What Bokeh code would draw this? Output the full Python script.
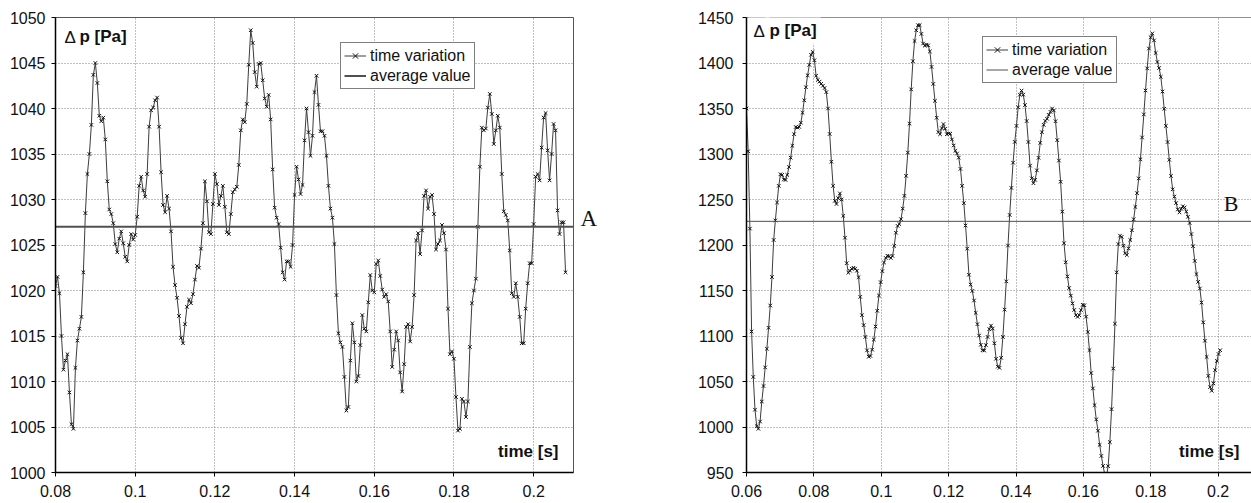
import numpy as np
from bokeh.plotting import figure
from bokeh.layouts import row
from bokeh.models import Label, Legend, LegendItem, FixedTicker, Range1d, LinearAxis, Span
from bokeh.embed import file_html
from bokeh.resources import INLINE

# ---------------- data: chart A (left) ----------------
T0_A = 0.08          # first sample time [s]
DT_A = 0.0005
dp_A = [
    1020.5, 1021.5, 1019.7, 1015.0, 1011.3, 1012.3, 1013.0, 1008.8, 1005.3, 1004.8,
    1011.5, 1014.5, 1015.8, 1017.1, 1022.0, 1028.5, 1032.8, 1035.0, 1038.2, 1043.7,
    1045.0, 1042.8, 1039.2, 1038.6, 1039.0, 1036.6, 1032.0, 1028.9, 1028.4, 1027.4,
    1025.1, 1024.2, 1025.7, 1026.5, 1025.2, 1023.7, 1023.2, 1025.0, 1026.2, 1025.6,
    1026.1, 1028.1, 1031.5, 1032.5, 1031.0, 1030.3, 1032.8, 1038.0, 1039.8, 1040.1,
    1040.9, 1041.2, 1038.0, 1033.0, 1029.4, 1028.6, 1030.4, 1029.0, 1026.5, 1022.6,
    1020.6, 1019.2, 1017.2, 1014.8, 1014.2, 1016.3, 1018.2, 1019.0, 1018.6, 1019.6,
    1021.2, 1022.7, 1022.5, 1024.6, 1027.4, 1032.0, 1029.8, 1026.4, 1026.2, 1029.5,
    1032.8, 1031.7, 1029.4, 1030.4, 1031.5, 1029.2, 1026.4, 1026.2, 1028.4, 1030.8,
    1031.1, 1031.4, 1033.8, 1037.6, 1038.8, 1038.5, 1040.5, 1044.8, 1048.6, 1047.2,
    1044.0, 1042.4, 1044.9, 1045.0, 1043.1, 1041.1, 1040.2, 1041.5, 1038.8, 1033.3,
    1029.1, 1028.0, 1027.3, 1024.7, 1022.0, 1021.2, 1023.2, 1023.2, 1022.6, 1025.0,
    1030.5, 1033.6, 1032.2, 1030.6, 1031.6, 1036.5, 1040.0, 1037.4, 1034.8, 1037.0,
    1041.8, 1043.6, 1040.4, 1037.5, 1037.5, 1037.0, 1034.8, 1031.5, 1029.0, 1028.0,
    1025.1, 1019.5, 1015.3, 1014.3, 1013.8, 1010.5, 1006.8, 1007.2, 1012.3, 1016.4,
    1014.3, 1010.0, 1010.6, 1014.0, 1017.3, 1015.8, 1015.5, 1018.7, 1021.7, 1020.0,
    1019.8, 1022.9, 1023.3, 1021.6, 1020.1, 1019.3, 1019.6, 1018.8, 1015.5, 1011.6,
    1013.5, 1015.5, 1014.5, 1011.0, 1008.9, 1011.9, 1016.0, 1016.3, 1014.4, 1016.0,
    1019.5, 1025.5, 1026.3, 1024.0, 1026.6, 1030.4, 1031.0, 1029.0, 1030.3, 1030.5,
    1028.4, 1024.5, 1025.1, 1025.5, 1027.2, 1026.3, 1024.5, 1018.0, 1013.0, 1013.3,
    1012.5, 1008.3, 1004.6, 1004.8, 1008.1, 1007.8, 1006.1, 1007.8, 1013.8, 1018.6,
    1020.0, 1021.3, 1027.0, 1033.6, 1037.9, 1037.6, 1037.8, 1040.1, 1041.6, 1039.4,
    1036.1, 1037.6, 1039.2, 1037.9, 1032.8, 1028.7, 1028.3, 1027.7, 1024.4, 1019.7,
    1019.3, 1020.8, 1019.3, 1017.1, 1014.2, 1014.2, 1018.0, 1020.8, 1023.0, 1023.0,
    1027.3, 1032.5, 1032.8, 1032.1, 1035.7, 1039.0, 1039.5, 1035.4, 1032.1, 1035.0,
    1038.3, 1037.6, 1028.8, 1026.2, 1027.5, 1027.5, 1022.0,
]
AVG_A = 1027.0
X_RANGE_A = (0.08, 0.21)
Y_RANGE_A = (1000, 1050)
X_TICKS_A = [0.08, 0.1, 0.12, 0.14, 0.16, 0.18, 0.2]
X_LABELS_A = ["0.08", "0.1", "0.12", "0.14", "0.16", "0.18", "0.2"]
Y_TICKS_A = [1000, 1005, 1010, 1015, 1020, 1025, 1030, 1035, 1040, 1045, 1050]

# ---------------- data: chart B (right) ----------------
T0_B = 0.06
DT_B = 0.000504
dp_B = [
    1350, 1303, 1218, 1105, 1055, 1019, 1001, 998, 1006, 1028,
    1045, 1065.5, 1086, 1109, 1133.5, 1164.8, 1205.5, 1227, 1246.7, 1265,
    1277.7, 1277, 1272, 1271.5, 1277, 1285.7, 1296, 1309, 1321.8, 1329.7,
    1329, 1329.8, 1334.4, 1345.3, 1359, 1373.4, 1386.5, 1398, 1409, 1412.2,
    1403, 1386, 1381.4, 1379.5, 1377.1, 1375, 1372.5, 1368, 1350, 1322,
    1291.5, 1265, 1248.5, 1245, 1251.5, 1256.7, 1250, 1232, 1208, 1180,
    1169.5, 1171.7, 1174, 1175, 1174, 1171.7, 1164.6, 1143, 1122.9, 1111.9,
    1099, 1084.2, 1077.2, 1078, 1085, 1096.1, 1110.4, 1127.7, 1144.5, 1159.2,
    1171.3, 1180.8, 1185.8, 1188.2, 1187.5, 1185.7, 1188, 1199, 1213.5, 1221,
    1223, 1228.4, 1240, 1254, 1276, 1301.6, 1333.3, 1371, 1402, 1424.2,
    1436, 1441.6, 1441.6, 1432, 1421.4, 1419.1, 1420.1, 1419.4, 1412.7, 1395.7,
    1377, 1358.4, 1339.8, 1324, 1321.7, 1328.5, 1332.9, 1327.8, 1321.7, 1322.5,
    1322.3, 1316, 1309.3, 1303.5, 1300.5, 1296, 1283.6, 1265, 1246, 1221.4,
    1196, 1167.3, 1156.5, 1149.5, 1139, 1125.4, 1113, 1100.5, 1090.3, 1084.3,
    1084, 1090, 1099, 1107.5, 1111.5, 1108.2, 1092, 1075, 1066.3, 1065,
    1076, 1099, 1129, 1160, 1199.4, 1233, 1262.7, 1290.5, 1313.3, 1330.9,
    1351.3, 1365.2, 1369.7, 1365.2, 1353.8, 1336.2, 1313.2, 1287.2, 1273.3, 1267.9,
    1271.6, 1282, 1295.8, 1312.2, 1324, 1332.1, 1336.4, 1338.7, 1343, 1346.3,
    1350, 1347.8, 1336, 1315.2, 1292.8, 1269.5, 1236.7, 1202, 1181, 1165.5,
    1152.7, 1144.4, 1135.8, 1128.6, 1122.9, 1121, 1122.8, 1128.4, 1134.3, 1133.8,
    1121.3, 1104.4, 1084.5, 1059.3, 1042.4, 1024, 1008.3, 995.9, 980.4, 968.2,
    957.2, 947.8, 945.8, 957, 983.4, 1019.6, 1064.2, 1113.5, 1170, 1201,
    1210.3, 1209, 1199.2, 1190.9, 1189, 1196.3, 1205.5, 1216.2, 1228.3, 1241.8,
    1257, 1273.2, 1294.2, 1318.2, 1343.5, 1369.8, 1394.1, 1415.9, 1428.3, 1432.5,
    1424.8, 1411, 1401.1, 1394.5, 1384.8, 1368.7, 1349.7, 1330.9, 1313.1, 1293.6,
    1275.9, 1261.2, 1253.2, 1246.1, 1239, 1235.8, 1239.8, 1242.6, 1241.3, 1236.8,
    1231, 1224.2, 1212, 1198.7, 1182.5, 1168, 1159.5, 1152.2, 1136.7, 1115,
    1094.8, 1077, 1056.2, 1043.8, 1039.8, 1047.9, 1062.5, 1072.6, 1080.2, 1084.4,
]
AVG_B = 1226.0
X_RANGE_B = (0.06, 0.2099)
Y_RANGE_B = (950, 1450)
X_TICKS_B = [0.06, 0.08, 0.1, 0.12, 0.14, 0.16, 0.18, 0.2]
X_LABELS_B = ["0.06", "0.08", "0.1", "0.12", "0.14", "0.16", "0.18", "0.2"]
Y_TICKS_B = [950, 1000, 1050, 1100, 1150, 1200, 1250, 1300, 1350, 1400, 1450]

LEGEND_LABELS = ["time variation", "average value"]
Y_LABEL = ("Δ", "p [Pa]")
X_LABEL = "time [s]"
TAGS = ("A", "B")

FONT = "Liberation Sans"
FIG_H = 503
MB_TOP_A, MB_BOTTOM = 17, 31


def make_panel(t0, dt, vals, avg, xr, yr, xticks, xlabels, yticks,
               width, mb_left, mb_right, mb_top, ystandoff,
               leg_loc, avg_width, outline, cover_top, lab_dx, lab_dy, time_dx):
    p = figure(width=width, height=FIG_H, x_range=Range1d(*xr), y_range=Range1d(*yr),
               output_backend="svg", toolbar_location=None,
               min_border_left=mb_left, min_border_right=mb_right,
               min_border_top=mb_top, min_border_bottom=MB_BOTTOM,
               background_fill_color="white", border_fill_color="white")
    p.outline_line_color = outline
    p.outline_line_width = 1

    p.xaxis.ticker = FixedTicker(ticks=xticks)
    p.xaxis.major_label_overrides = dict(zip(xticks, xlabels))
    p.yaxis.ticker = FixedTicker(ticks=yticks)
    p.axis.minor_tick_line_color = None
    p.axis.major_tick_in = 0
    p.axis.major_tick_out = 4
    p.axis.axis_line_color = "black"
    p.axis.axis_line_width = 1.5
    p.axis.major_tick_line_color = "black"
    p.axis.major_label_text_font = FONT
    p.axis.major_label_text_font_size = "16px"
    p.axis.major_label_text_color = "#111111"
    p.yaxis.major_label_standoff = ystandoff
    p.xaxis.major_label_standoff = 8

    p.grid.grid_line_color = "#808080"
    p.grid.grid_line_dash = "1 2"
    p.grid.grid_line_width = 1

    t = t0 + dt * np.arange(len(vals))
    if cover_top:
        p.add_layout(Span(location=yr[1], dimension="width", line_color="#222222",
                          line_width=1, level="underlay"))

    r_line = p.line(t, vals, line_color="#3c3c3c", line_width=1)
    r_pts = p.scatter(t, vals, marker="x", size=5, line_color="#111111", line_width=1)

    r_avg = p.line(x=list(xr), y=[avg, avg], line_color="#505050", line_width=avg_width)

    legend = Legend(items=[LegendItem(label=LEGEND_LABELS[0], renderers=[r_line, r_pts]),
                           LegendItem(label=LEGEND_LABELS[1], renderers=[r_avg])],
                    location=leg_loc, border_line_color="black", border_line_width=1,
                    background_fill_color="white", background_fill_alpha=1,
                    label_text_font=FONT, label_text_font_size="16px",
                    label_text_color="#111111",
                    glyph_width=22, glyph_height=19, label_height=19,
                    label_standoff=4, padding=3, spacing=1, margin=0)
    p.add_layout(legend)

    bg = "white" if cover_top else None
    p.add_layout(Label(x=xr[0], y=yr[1], x_offset=lab_dx[0], y_offset=lab_dy, text=Y_LABEL[0],
                       text_font=FONT, text_font_size="17px", text_color="#111111",
                       text_baseline="top", background_fill_color=bg, padding=5))
    p.add_layout(Label(x=xr[0], y=yr[1], x_offset=lab_dx[1], y_offset=lab_dy, text=Y_LABEL[1],
                       text_font=FONT, text_font_size="17px", text_font_style="bold",
                       text_color="#111111", text_baseline="top",
                       background_fill_color=bg, padding=4))
    p.add_layout(Label(x=xr[1], y=yr[0], x_offset=time_dx, y_offset=21, text=X_LABEL,
                       text_font=FONT, text_font_size="17px", text_font_style="bold",
                       text_color="#111111", text_align="right",
                       text_baseline="alphabetic"))
    return p


pA = make_panel(T0_A, DT_A, dp_A, AVG_A, X_RANGE_A, Y_RANGE_A, X_TICKS_A, X_LABELS_A,
                Y_TICKS_A, width=650, mb_left=55, mb_right=77, mb_top=MB_TOP_A,
                ystandoff=6, leg_loc=(285, 383), avg_width=2, outline="#555555",
                cover_top=False, lab_dx=(4, 20), lab_dy=-5, time_dx=-15)

# tag "A" sits just above the average line, outside the frame on the right:
# drawn as the single label of an extra right-hand axis whose range is shifted
# so that the label centre lies ~8 px above the line.
TAG_RAISE_PX = 8
frame_h_A = FIG_H - MB_TOP_A - MB_BOTTOM
shift = TAG_RAISE_PX * (Y_RANGE_A[1] - Y_RANGE_A[0]) / frame_h_A
pA.extra_y_ranges = {"tag": Range1d(Y_RANGE_A[0] - shift, Y_RANGE_A[1] - shift)}
tag_axis = LinearAxis(y_range_name="tag", ticker=FixedTicker(ticks=[AVG_A]),
                      major_label_overrides={AVG_A: TAGS[0]},
                      axis_line_color=None, major_tick_line_color=None,
                      minor_tick_line_color=None, major_tick_out=0, major_tick_in=0,
                      major_label_standoff=7,
                      major_label_text_font="Liberation Serif",
                      major_label_text_font_size="23px",
                      major_label_text_color="#111111")
pA.add_layout(tag_axis, "right")

pB = make_panel(T0_B, DT_B, dp_B, AVG_B, X_RANGE_B, Y_RANGE_B, X_TICKS_B, X_LABELS_B,
                Y_TICKS_B, width=601, mb_left=96, mb_right=0, mb_top=15,
                ystandoff=9, leg_loc=(236, 389), avg_width=1, outline=None,
                cover_top=True, lab_dx=(2, 19), lab_dy=1, time_dx=-12)
pB.add_layout(Label(x=X_RANGE_B[1], y=AVG_B, x_offset=-13, y_offset=18, text=TAGS[1],
                    text_font="Liberation Serif", text_font_size="22px",
                    text_color="#111111", text_align="right", text_baseline="alphabetic"))

layout = row(pA, pB)
open("out.html", "w").write(file_html(layout, INLINE))
